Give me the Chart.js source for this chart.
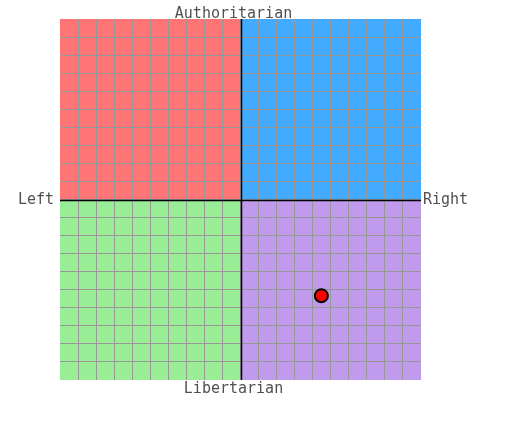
<!DOCTYPE html>
<html>
<head>
<meta charset="utf-8">
<script src="https://cdn.jsdelivr.net/npm/chart.js@4/dist/chart.umd.min.js"></script>
<style>
  html, body { margin: 0; padding: 0; background: #fff; }
  canvas { display: block; }
</style>
</head>
<body>
<canvas id="compass" width="525" height="444"></canvas>
<script>
// axis range and the one plotted position
var axisMin = -10;
var axisMax = 10;
var economicValues = [4.48];   // left (-) / right (+)
var socialValues = [-5.33];    // libertarian (-) / authoritarian (+)

// quadrant order: top-left, top-right, bottom-left, bottom-right
var quadrantColors = ['#ff7575', '#42aaff', '#9aed97', '#c09aec'];
var axisLabels = ['Authoritarian', 'Right', 'Libertarian', 'Left'];

var points = [];
for (var i = 0; i < economicValues.length; i++) {
    points.push({x: economicValues[i], y: socialValues[i]});
}

// paint the four quadrants under the grid
var quadrantPlugin = {
    id: 'quadrants',
    beforeDraw: function(chart) {
        var ctx = chart.ctx;
        var xs = chart.scales.x, ys = chart.scales.y;
        var l = xs.getPixelForValue(axisMin), r = xs.getPixelForValue(axisMax);
        var cx = xs.getPixelForValue(0);
        var t = ys.getPixelForValue(axisMax), b = ys.getPixelForValue(axisMin);
        var cy = ys.getPixelForValue(0);
        ctx.save();
        ctx.fillStyle = quadrantColors[0]; ctx.fillRect(l, t, cx - l, cy - t);
        ctx.fillStyle = quadrantColors[1]; ctx.fillRect(cx, t, r - cx, cy - t);
        ctx.fillStyle = quadrantColors[2]; ctx.fillRect(l, cy, cx - l, b - cy);
        ctx.fillStyle = quadrantColors[3]; ctx.fillRect(cx, cy, r - cx, b - cy);
        ctx.restore();
    },
    beforeDatasetsDraw: function(chart) {
        // black centre cross
        var ctx = chart.ctx;
        var xs = chart.scales.x, ys = chart.scales.y;
        var a = chart.chartArea;
        var cx = Math.round(xs.getPixelForValue(0)) + 0.5;
        var cy = Math.round(ys.getPixelForValue(0)) + 0.5;
        ctx.save();
        ctx.strokeStyle = '#000';
        ctx.lineWidth = 1.5;
        ctx.beginPath();
        ctx.moveTo(cx, a.top); ctx.lineTo(cx, a.bottom);
        ctx.moveTo(a.left, cy); ctx.lineTo(a.right, cy);
        ctx.stroke();
        ctx.restore();
    },
    afterDraw: function(chart) {
        var ctx = chart.ctx;
        var a = chart.chartArea;
        var midX = (a.left + a.right) / 2;
        var midY = (a.top + a.bottom) / 2;
        ctx.save();
        ctx.fillStyle = '#505050';
        ctx.font = '15px "DejaVu Sans Mono", monospace';
        ctx.textBaseline = 'alphabetic';
        ctx.textAlign = 'center';
        ctx.fillText(axisLabels[0], midX - 7, a.top - 1);
        ctx.fillText(axisLabels[2], midX - 7, a.bottom + 13);
        ctx.textBaseline = 'middle';
        ctx.textAlign = 'left';
        ctx.fillText(axisLabels[1], a.right + 2, midY + 1);
        ctx.textAlign = 'right';
        ctx.fillText(axisLabels[3], a.left - 6, midY + 1);
        ctx.restore();
    }
};

// no grey line on the outer edges of the square
var gridColor = function(c) {
    var v = c.tick ? c.tick.value : 0;
    return (v === axisMin || v === axisMax) ? 'rgba(0,0,0,0)' : '#979797';
};

var gridScale = function() {
    return {
        type: 'linear',
        min: axisMin,
        max: axisMax,
        border: {display: false},
        grid: {
            color: gridColor,
            lineWidth: 1,
            drawTicks: false
        },
        ticks: {display: false, stepSize: 1}
    };
};

new Chart(document.getElementById('compass'), {
    type: 'scatter',
    data: {
        datasets: [{
            data: points,
            backgroundColor: '#ff0000',
            borderColor: '#000000',
            borderWidth: 2,
            pointRadius: 6.5,
            pointHoverRadius: 6.5
        }]
    },
    options: {
        responsive: false,
        animation: false,
        layout: {padding: {left: 60, top: 19, right: 104, bottom: 64}},
        plugins: {
            legend: {display: false},
            tooltip: {enabled: false}
        },
        scales: {
            x: gridScale(),
            y: gridScale()
        }
    },
    plugins: [quadrantPlugin]
});
</script>
</body>
</html>
